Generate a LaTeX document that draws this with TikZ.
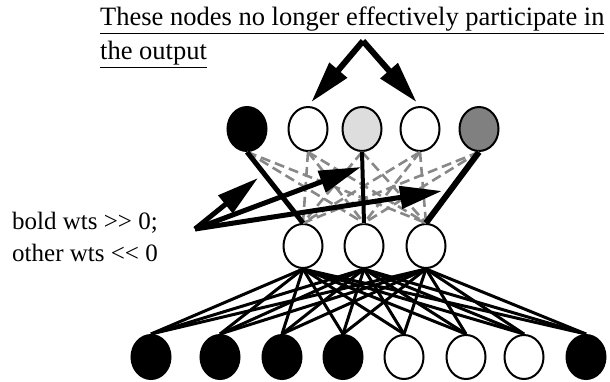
\documentclass[tikz,border=0pt]{standalone}
\usepackage{fontspec}
\setmainfont{Liberation Serif}
\usepackage{tikz}
\usetikzlibrary{arrows.meta,positioning,shapes.geometric}

\begin{document}
\begin{tikzpicture}[x=1pt,y=-1pt,
  unit/.style={ellipse,draw=black,line width=2pt,minimum width=39pt,minimum height=44pt,inner sep=0pt},
  wt/.style={line width=3pt},
  boldwt/.style={line width=5pt},
  weakwt/.style={draw=dashgray,line width=2.6pt,dash pattern=on 10pt off 5pt},
  pointer/.style={line width=5pt,-{Triangle[length=42pt,width=22pt]}},
  note/.style={font=\fontsize{26.5}{34}\selectfont,inner sep=0pt,align=left,anchor=north west}]
\definecolor{paleunit}{HTML}{DDDDDD}
\definecolor{midunit}{HTML}{808080}
\definecolor{dashgray}{HTML}{888888}
\useasboundingbox (0,0) rectangle (610,381);

% output layer
\foreach \i/\x/\col in {1/247/black,2/308/white,3/362/paleunit,4/420/white,5/479/midunit} {
  \node[unit,fill=\col] (o\i) at (\x,129) {};
}
% hidden layer
\foreach \i/\x in {1/303,2/364,3/426} {
  \node[unit,fill=white] (h\i) at (\x,246) {};
}
% input layer
\foreach \i/\x/\col in {1/151/black,2/220/black,3/282/black,4/343/black,5/404/white,6/466/white,7/524/white,8/586/black} {
  \node[unit,fill=\col] (in\i) at (\x,357) {};
}

% input -> hidden
\foreach \h in {1,2,3} {
  \foreach \i in {1,...,8} {
    \draw[wt] (h\h.south) -- (in\i.north);
  }
}
% hidden -> output, weights << 0
\foreach \o/\h in {1/2,1/3,2/1,2/2,2/3,3/1,3/3,4/1,4/2,4/3,5/1,5/2} {
  \draw[weakwt] (o\o.south) -- (h\h.north);
}
% hidden -> output, weights >> 0
\draw[boldwt] (o1.south) -- (h1.north);
\draw[boldwt,line width=4pt] (o3.south) -- (h2.north);
\draw[boldwt,line width=6pt] (o5.south) -- (h3.north);

% notes
\node[note] (title) at (100,7) {\underline{These nodes no longer effectively participate in}\\\underline{the output}};
\coordinate (fork) at (363,41);
\draw[pointer,line width=6pt,shorten >=5pt] (fork) -- (o2.north);
\draw[pointer,line width=6pt,shorten >=5pt] (fork) -- (o4.north);

\node[note,font=\fontsize{25}{32}\selectfont] (wts) at (12,212) {bold wts {>}{>} 0;\\other wts {<}{<} 0};
\coordinate (wtsfork) at (195,229);
\coordinate (aim1) at (258,178);
\coordinate (aim2) at (361,167);
\coordinate (aim3) at (442,191);
\foreach \a in {1,2,3} {
  \draw[pointer] (wtsfork) -- (aim\a);
}
\end{tikzpicture}
\end{document}
